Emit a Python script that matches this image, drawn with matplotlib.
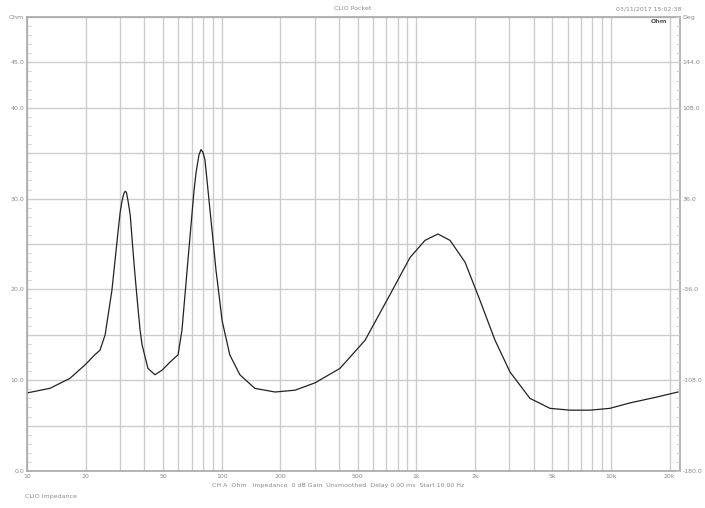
import numpy as np
import matplotlib
matplotlib.use("Agg")
import matplotlib.pyplot as plt
from matplotlib.ticker import FixedLocator, MultipleLocator, NullFormatter

# impedance curve (Hz, Ohm)
freq = [10, 13.1, 16.6, 19.9, 22.3, 23.7, 25.2, 27.3, 29.4, 30.1, 30.8, 31.5,
        31.9, 32.4, 33.0, 33.9, 34.7, 35.6, 36.8, 38.1, 39.0, 41.8, 45.4, 49.4,
        54.3, 59.7, 62.5, 67.1, 72.1, 73.9, 76.4, 78.3, 80.1, 82.0, 84.1, 87.1,
        90.3, 93.5, 96.9, 100.4, 110, 124, 148, 188, 238, 301, 405, 545, 731,
        927, 1107, 1291, 1489, 1778, 2121, 2535, 3027, 3830, 4855, 6150, 7796,
        9865, 12500, 16830, 22080]
ohm = [8.6, 9.1, 10.2, 11.7, 12.8, 13.3, 15.0, 19.9, 26.5, 28.5, 29.8, 30.6,
       30.8, 30.7, 29.8, 28.2, 25.4, 22.4, 18.9, 15.5, 13.9, 11.3, 10.6, 11.1,
       12.0, 12.8, 15.5, 23.2, 30.9, 32.9, 34.8, 35.4, 35.1, 34.3, 32.0, 28.7,
       25.4, 22.1, 19.4, 16.6, 12.8, 10.6, 9.1, 8.7, 8.9, 9.7, 11.3, 14.4,
       19.4, 23.5, 25.4, 26.1, 25.4, 23.0, 18.8, 14.4, 10.9, 8.0, 6.9, 6.7,
       6.7, 6.9, 7.5, 8.1, 8.7]

x_ticks = [10, 20, 50, 100, 200, 500, 1000, 2000, 5000, 10000, 20000]
x_labels = ["10", "20", "50", "100", "200", "500", "1k", "2k", "5k", "10k", "20k"]
left_ticks = [0, 10, 20, 30, 40, 45, 50]
left_labels = ["0.0", "10.0", "20.0", "30.0", "40.0", "45.0", "Ohm"]
right_ticks = [-180, -108, -36, 36, 108, 144, 180]
right_labels = ["-180.0", "-108.0", "-36.0", "36.0", "108.0", "144.0", "Deg"]

grid_col = "#cccccc"
txt_col = "#8a8a8a"

fig = plt.figure(figsize=(7.05, 5.08), dpi=100)
ax = fig.add_axes([27 / 705, 1 - 471 / 508, 653 / 705, 454 / 508])

ax.semilogx(freq, ohm, color="#222222", lw=0.9)
ax.set_xlim(10, 22600)
ax.set_ylim(0, 50)

minor_x = [m * d for d in (10, 100, 1000, 10000) for m in range(1, 10)]
minor_x = [v for v in minor_x if v not in x_ticks and v <= 22000]
ax.xaxis.set_major_locator(FixedLocator(x_ticks))
ax.xaxis.set_minor_locator(FixedLocator(minor_x))
ax.set_xticklabels(x_labels)
ax.xaxis.set_minor_formatter(NullFormatter())
ax.grid(True, which="both", axis="x", color=grid_col, lw=1.0)

ax.yaxis.set_major_locator(FixedLocator(left_ticks))
ax.set_yticklabels(left_labels)
ax.yaxis.set_minor_locator(MultipleLocator(1))
for yv in np.arange(0, 51, 5):
    ax.axhline(yv, color=grid_col, lw=1.0, zorder=0)

ax.tick_params(axis="both", which="both", direction="in", colors=grid_col,
               labelcolor=txt_col, labelsize=4.5, length=3, pad=2)
ax.tick_params(axis="y", which="minor", length=3)
ax.tick_params(axis="x", which="minor", length=0)
for s in ax.spines.values():
    s.set_color("#a8a8a8")
    s.set_linewidth(1.2)

ax2 = ax.twinx()
ax2.set_ylim(-180, 180)
ax2.yaxis.set_major_locator(FixedLocator(right_ticks))
ax2.set_yticklabels(right_labels)
ax2.yaxis.set_minor_locator(MultipleLocator(7.2))
ax2.tick_params(axis="y", which="both", direction="in", colors=grid_col,
                labelcolor=txt_col, labelsize=4.5, length=3, pad=2)
for s in ax2.spines.values():
    s.set_visible(False)

fig.text(0.5, 0.983, "CLIO Pocket", ha="center", va="center", fontsize=4.5, color=txt_col)
fig.text(0.92, 0.983, "03/11/2017 15:02:38", ha="center", va="center", fontsize=4.5, color=txt_col)
fig.text(0.935, 0.958, "Ohm", ha="center", va="center", fontsize=4.5,
         color="#555555", fontweight="bold")
fig.text(0.48, 0.045, "CH A  Ohm   Impedance  0 dB Gain  Unsmoothed  Delay 0.00 ms  Start 10.00 Hz",
         ha="center", va="center", fontsize=4.5, color=txt_col)
fig.text(0.035, 0.022, "CLIO Impedance", ha="left", va="center", fontsize=4.5, color=txt_col)

plt.savefig("out.png", dpi=100)
